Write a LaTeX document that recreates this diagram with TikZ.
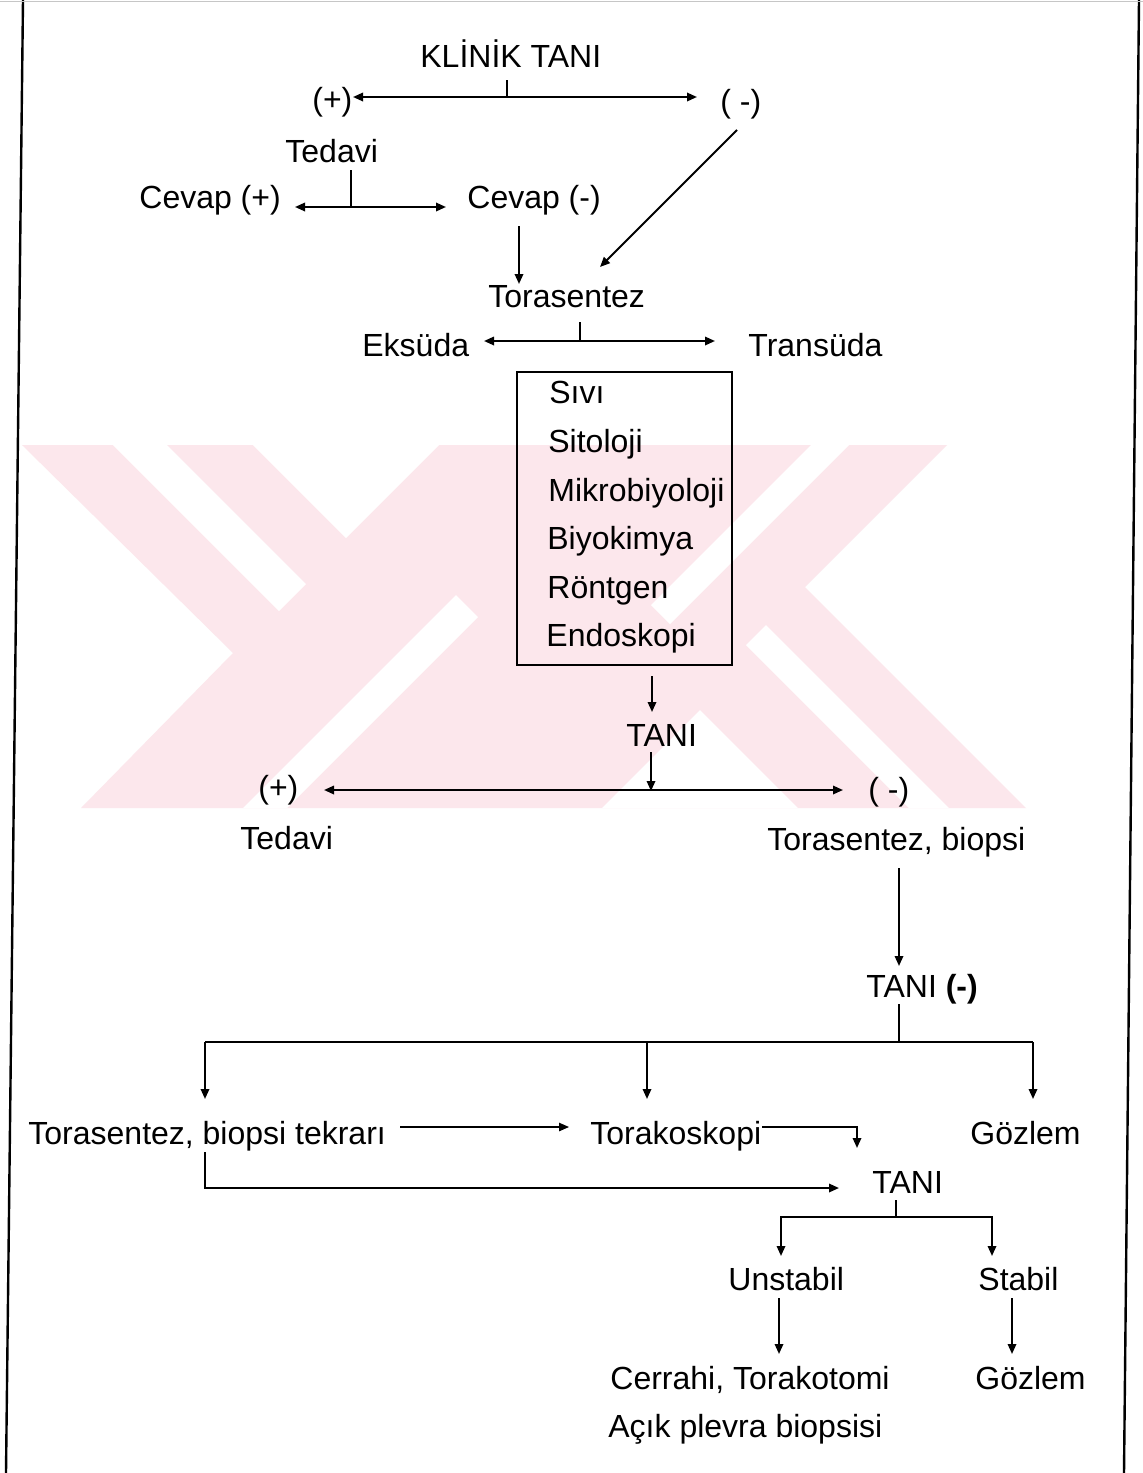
\documentclass[tikz,border=0pt]{standalone}
\usepackage{fontspec}
\setmainfont{Liberation Sans}
\usetikzlibrary{arrows.meta}
\definecolor{wmpink}{RGB}{252,231,236}
\begin{document}
\begin{tikzpicture}[x=0.5pt,y=-0.5pt,
  font=\fontsize{16}{19}\selectfont,
  txt/.style={inner sep=0pt, anchor=base west},
  ln/.style={line width=1pt},
  arr/.style={ln, -{Triangle[length=5pt,width=4.2pt]}},
  darr/.style={ln, {Triangle[length=5pt,width=4.2pt]}-{Triangle[length=5pt,width=4.2pt]}},
  frame/.style={line width=1.2pt}]
\useasboundingbox (0,0) rectangle (1143,1473);
\fill[white] (0,0) rectangle (1143,1473);
% faint watermark
\fill[wmpink] (22,445) -- (947,445) -- (805,587) -- (1026,808) -- (81,808) -- (233,653) -- cycle;
\fill[white] (113,445) -- (167,445) -- (306,584) -- (279,611) -- cycle;
\fill[white] (253,445) -- (439,445) -- (346,538) -- cycle;
\fill[white] (700,710) -- (798,808) -- (602,808) -- cycle;
\fill[white] (746,645) -- (766,625) -- (949,808) -- (909,808) -- cycle;
\fill[white] (456,595) -- (478,617) -- (287,808) -- (243,808) -- cycle;
\fill[white] (811,445) -- (849,445) -- (670,624) -- (651,605) -- cycle;
% frame
\coordinate (fl1) at (23,0); \coordinate (fl2) at (6,1473);
\coordinate (fr1) at (1139,0); \coordinate (fr2) at (1124,1473);
\coordinate (ft1) at (0,1.5); \coordinate (ft2) at (1143,1.5);
\draw[frame] (fl1) -- (fl2);
\draw[frame] (fr1) -- (fr2);
\draw[gray!45, line width=0.6pt] (ft1) -- (ft2);
% texts
\node[txt] (klinik) at (420,67) {KLİNİK TANI};
\node[txt] (p1) at (312,110) {(+)};
\node[txt] (m1) at (720,112) {( -)};
\node[txt] (ted1) at (285,162) {Tedavi};
\node[txt] (cevp) at (139,208) {Cevap (+)};
\node[txt] (cevm) at (467,208) {Cevap (-)};
\node[txt] (tora) at (488,307) {Torasentez};
\node[txt] (eks) at (362,356) {Eksüda};
\node[txt] (tran) at (748,356) {Transüda};
\node[draw, line width=1pt, minimum width=107.5pt, minimum height=146.5pt, inner sep=0pt] (box) at (624.5,518.5) {};
\node[txt] (i1) at (549,403) {Sıvı};
\node[txt] (i2) at (548,452) {Sitoloji};
\node[txt] (i3) at (548,501) {Mikrobiyoloji};
\node[txt] (i4) at (547,549) {Biyokimya};
\node[txt] (i5) at (547,598) {Röntgen};
\node[txt] (i6) at (546,646) {Endoskopi};
\node[txt] (tani2) at (626,746) {TANI};
\node[txt] (p2) at (258,798) {(+)};
\node[txt] (m2) at (868,800) {( -)};
\node[txt] (ted2) at (240,849) {Tedavi};
\node[txt] (tb) at (767,850) {Torasentez, biopsi};
\node[txt] (tanim) at (866,997) {TANI \textbf{(-)}};
\node[txt] (tbt) at (28,1144) {Torasentez, biopsi tekrarı};
\node[txt] (tk) at (590,1144) {Torakoskopi};
\node[txt] (goz1) at (970,1144) {Gözlem};
\node[txt] (tani3) at (872,1193) {TANI};
\node[txt] (uns) at (728,1290) {Unstabil};
\node[txt] (stab) at (978,1290) {Stabil};
\node[txt] (cer) at (610,1389) {Cerrahi, Torakotomi};
\node[txt] (goz2) at (975,1389) {Gözlem};
\node[txt] (acik) at (608,1437) {Açık plevra biopsisi};
% connectors
\coordinate (k0) at (507,80); \coordinate (k1) at (507,97);
\coordinate (kl) at (353,97); \coordinate (kr) at (697,97);
\draw[ln] (k0) -- (k1);
\draw[darr] (kl) -- (kr);
\coordinate (t0) at (351,170); \coordinate (t1) at (351,207);
\coordinate (tl) at (295,207); \coordinate (tr) at (446,207);
\draw[ln] (t0) -- (t1);
\draw[darr] (tl) -- (tr);
\coordinate (c0) at (519,226); \coordinate (c1) at (519,284);
\draw[arr] (c0) -- (c1);
\coordinate (d0) at (737,130); \coordinate (d1) at (600,267);
\draw[arr] (d0) -- (d1);
\coordinate (s0) at (580,322); \coordinate (s1) at (580,341);
\coordinate (sl) at (484,341); \coordinate (sr) at (715,341);
\draw[ln] (s0) -- (s1);
\draw[darr] (sl) -- (sr);
\coordinate (b0) at (652,676); \coordinate (b1) at (652,712);
\draw[arr] (b0) -- (b1);
\coordinate (n0) at (651,752); \coordinate (n1) at (651,791);
\coordinate (nl) at (324,790); \coordinate (nr) at (843,790);
\draw[darr] (nl) -- (nr);
\draw[arr] (n0) -- (n1);
\coordinate (q0) at (899,868); \coordinate (q1) at (899,966);
\draw[arr] (q0) -- (q1);
\coordinate (r0) at (899,1004); \coordinate (r1) at (899,1042);
\coordinate (ra) at (205,1042); \coordinate (rb) at (647,1042); \coordinate (rc) at (1033,1042);
\coordinate (ra1) at (205,1099); \coordinate (rb1) at (647,1099); \coordinate (rc1) at (1033,1099);
\draw[ln] (r0) -- (r1);
\draw[ln] (ra) -- (rc);
\draw[arr] (ra) -- (ra1);
\draw[arr] (rb) -- (rb1);
\draw[arr] (rc) -- (rc1);
\coordinate (h0) at (400,1127); \coordinate (h1) at (569,1127);
\draw[arr, line width=0.7pt] (h0) -- (h1);
\coordinate (g0) at (762,1127); \coordinate (g1) at (857,1127); \coordinate (g2) at (857,1148);
\draw[arr] (g0) -- (g1) -- (g2);
\coordinate (e0) at (205,1152); \coordinate (e1) at (205,1188); \coordinate (e2) at (839,1188);
\draw[arr] (e0) -- (e1) -- (e2);
\coordinate (u0) at (896,1200); \coordinate (u1) at (896,1217);
\coordinate (ua) at (781,1217); \coordinate (ub) at (992,1217);
\coordinate (ua1) at (781,1256); \coordinate (ub1) at (992,1256);
\draw[ln] (u0) -- (u1);
\draw[arr] (u1) -- (ua) -- (ua1);
\draw[arr] (u1) -- (ub) -- (ub1);
\coordinate (v0) at (779,1298); \coordinate (v1) at (779,1354);
\coordinate (w0) at (1012,1298); \coordinate (w1) at (1012,1354);
\draw[arr] (v0) -- (v1);
\draw[arr] (w0) -- (w1);
\end{tikzpicture}
\end{document}
